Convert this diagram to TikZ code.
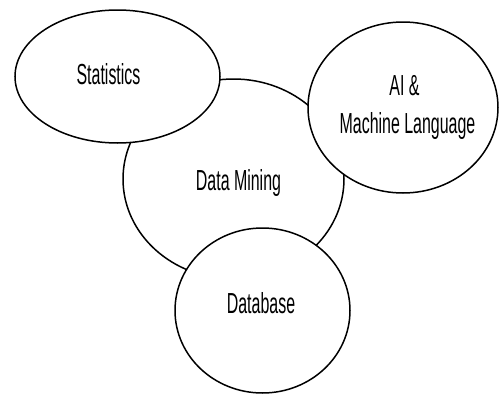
\documentclass[tikz,border=0pt]{standalone}
\usepackage{fontspec}
\setmainfont[FakeStretch=0.55]{Liberation Sans}
\usetikzlibrary{shapes.geometric}
\begin{document}
\begin{tikzpicture}[x=1pt,y=-1pt,
  blob/.style={ellipse,draw=black,fill=white,line width=1.5pt,inner sep=0pt},
  lbl/.style={anchor=base,inner sep=0pt,font=\fontsize{29}{38}\selectfont,text=black}]
\useasboundingbox (0,0) rectangle (499,394);
\node[blob,minimum width=221pt,minimum height=200pt] (dm) at (233.5,179) {};
\node[blob,minimum width=205pt,minimum height=133pt] (st) at (117.5,76.5) {};
\node[blob,minimum width=190pt,minimum height=171pt] (ai) at (403,107.5) {};
\node[blob,minimum width=175pt,minimum height=165pt] (db) at (262.5,310.5) {};
\node[lbl] (tst) at (108.5,84) {Statistics};
\node[lbl] (tdm) at (238.5,190) {Data Mining};
\node[lbl] (tai1) at (404.5,95) {AI \&};
\node[lbl] (tai2) at (407.5,133) {Machine Language};
\node[lbl] (tdb) at (261,313) {Database};
\end{tikzpicture}
\end{document}
